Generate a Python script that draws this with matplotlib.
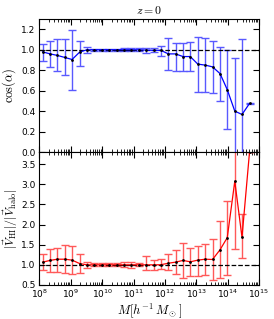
import matplotlib
matplotlib.use('Agg')
import matplotlib.pyplot as plt
import numpy as np

plt.rcParams['mathtext.fontset'] = 'cm'
plt.rcParams['font.size'] = 7

logM = [8.10, 8.34, 8.57, 8.81, 9.04, 9.28, 9.51, 9.75, 9.99, 10.22,
        10.46, 10.69, 10.93, 11.16, 11.40, 11.64, 11.87, 12.11, 12.34, 12.58,
        12.81, 13.05, 13.29, 13.52, 13.76, 13.99, 14.23, 14.46, 14.70]

cos_a = [0.98, 0.96, 0.945, 0.925, 0.905, 0.977, 1.0, 1.0, 1.0, 1.0,
         1.0, 1.0, 1.0, 1.0, 0.997, 0.995, 0.995, 0.96, 0.96, 0.934,
         0.934, 0.86, 0.85, 0.833, 0.767, 0.61, 0.40, 0.367, 0.475]
cos_lo = [0.895, 0.83, 0.79, 0.75, 0.605, 0.846, 0.97, 0.99, 0.993, 0.993,
          0.993, 0.985, 0.985, 0.985, 0.97, 0.975, 0.944, 0.80, 0.797, 0.797,
          0.797, 0.59, 0.584, 0.577, 0.495, 0.226, -0.1, -0.1, 0.47]
cos_hi = [1.06, 1.085, 1.105, 1.105, 1.197, 1.085, 1.026, 1.01, 1.007, 1.007,
          1.007, 1.015, 1.015, 1.015, 1.02, 1.015, 1.04, 1.118, 1.07, 1.07,
          1.08, 1.128, 1.115, 1.088, 1.026, 1.0, 0.915, 1.11, 0.48]

vrat = [1.067, 1.11, 1.14, 1.14, 1.117, 1.033, 1.0, 1.0, 1.0, 1.0,
        1.0, 1.0, 1.0, 1.0, 1.0, 1.0, 1.003, 1.04, 1.067, 1.11,
        1.075, 1.117, 1.14, 1.133, 1.375, 1.675, 3.075, 1.683, 3.8]
v_lo = [0.86, 0.83, 0.825, 0.79, 0.77, 0.80, 0.925, 0.96, 0.96, 0.97,
        0.97, 0.95, 0.93, 0.96, 0.875, 0.88, 0.89, 0.86, 0.78, 0.675,
        0.733, 0.733, 0.742, 0.617, 0.683, 0.758, 1.383, 1.158, 3.8]
v_hi = [1.27, 1.39, 1.42, 1.49, 1.46, 1.275, 1.075, 1.04, 1.04, 1.04,
        1.04, 1.06, 1.07, 1.04, 1.217, 1.11, 1.15, 1.28, 1.36, 1.55,
        1.41, 1.475, 1.525, 1.633, 2.09, 2.59, 4.2, 2.25, 3.8]

M = 10**np.array(logM)

fig = plt.figure(figsize=(2.74, 3.19), dpi=100)
ax1 = fig.add_axes([0.144, 0.5235, 0.801, 0.4165])
ax2 = fig.add_axes([0.144, 0.1066, 0.801, 0.4169], sharex=ax1)

y1 = np.array(cos_a)
ax1.errorbar(M, y1, yerr=[y1 - np.array(cos_lo), np.array(cos_hi) - y1],
             color='b', ecolor=(0.35, 0.35, 1.0), elinewidth=1, capsize=3,
             lw=0.9, marker='.', ms=2, mfc='k', mec='k')
ax1.axhline(1.0, color='k', ls='--', lw=0.9)
ax1.set_ylim(0, 1.3)
ax1.set_yticks([0.0, 0.2, 0.4, 0.6, 0.8, 1.0, 1.2])
ax1.set_ylabel(r'$\cos(\alpha)$', fontsize=9, labelpad=2)
ax1.set_title(r'$z=0$', fontsize=8.5, pad=4)
plt.setp(ax1.get_xticklabels(), visible=False)

y2 = np.array(vrat)
ax2.errorbar(M, y2, yerr=[y2 - np.array(v_lo), np.array(v_hi) - y2],
             color='r', ecolor=(1.0, 0.35, 0.35), elinewidth=1, capsize=3,
             lw=0.9, marker='.', ms=2, mfc='k', mec='k')
ax2.axhline(1.0, color='k', ls='--', lw=0.9)
ax2.set_ylim(0.5, 3.8)
ax2.set_yticks([0.5, 1.0, 1.5, 2.0, 2.5, 3.0, 3.5])
ax2.set_xscale('log')
ax2.set_xlim(1e8, 1e15)
ax2.set_ylabel(r'$|\vec{V}_{\rm HI}|/|\vec{V}_{\rm halo}|$', fontsize=8.5, labelpad=1)
ax2.set_xlabel(r'$M[h^{-1}\,M_\odot]$', fontsize=9, labelpad=1)

for ax in (ax1, ax2):
    ax.tick_params(which='both', direction='in', top=True, right=True, labelsize=6.5)
    ax.tick_params(which='major', length=4, pad=3)
    ax.tick_params(which='minor', length=2)
    ax.minorticks_on()
    ax.yaxis.set_minor_locator(matplotlib.ticker.NullLocator())
ax2.tick_params(axis='x', which='major', pad=2, labelsize=6.5)

fig.savefig('out.png', dpi=100)
